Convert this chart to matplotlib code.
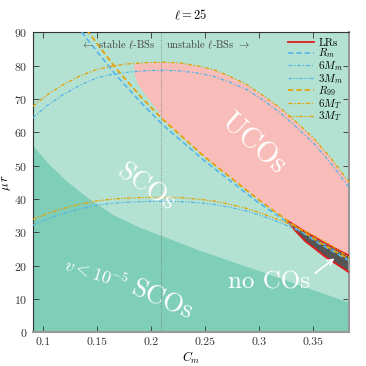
import numpy as np
import matplotlib
matplotlib.use("Agg")
from matplotlib import pyplot as plt, ticker

plt.rcParams['font.family'] = 'serif'
plt.rcParams['font.serif'] = ['cmr10']
plt.rcParams['mathtext.fontset'] = 'cm'
plt.rcParams['axes.formatter.use_mathtext'] = True

# values
arc_C = [0.0903, 0.1034, 0.1184, 0.134, 0.1494, 0.163, 0.175, 0.1958, 0.211, 0.2267,
         0.242, 0.2577, 0.273, 0.2887, 0.304, 0.3198, 0.335, 0.3505, 0.367, 0.3838]
M6_T = [67.8, 71.2, 74.3, 76.9, 78.8, 79.8, 80.4, 80.9, 81.0, 80.8,
        80.0, 78.8, 76.8, 74.3, 71.0, 67.3, 63.0, 58.3, 52.2, 45.0]
M6_m = [64.3, 68.0, 71.3, 74.1, 76.3, 77.3, 77.9, 78.5, 78.6, 78.4,
        77.8, 76.8, 75.0, 72.8, 69.6, 65.8, 61.5, 56.8, 50.6, 43.4]
M3_T = [33.9, 35.6, 37.15, 38.45, 39.4, 39.9, 40.2, 40.45, 40.5, 40.4,
        40.0, 39.4, 38.4, 37.15, 35.5, 33.65, 31.5, 29.15, 26.1, 22.5]
M3_m = [32.15, 34.0, 35.65, 37.05, 38.15, 38.65, 38.95, 39.25, 39.3, 39.2,
        38.9, 38.4, 37.5, 36.4, 34.8, 32.9, 30.75, 28.4, 25.3, 21.7]

r_C = [0.1355, 0.1416, 0.168, 0.19, 0.2112, 0.25, 0.298, 0.3273, 0.356, 0.3838]
R_99 = [92.7, 90.1, 78.9, 70.8, 63.7, 52.5, 40.2, 33.3, 27.0, 21.9]
R_m = [90.1, 87.5, 76.9, 69.1, 62.1, 51.3, 39.3, 32.8, 26.6, 21.5]

lr_up_C = [0.3273, 0.3428, 0.3614, 0.3838]
lr_up = [33.3, 30.2, 26.7, 23.0]
lr_low_C = [0.3273, 0.3335, 0.3428, 0.3614, 0.3838]
lr_low = [33.1, 30.6, 27.4, 22.7, 18.0]

dark_C = [0.0903, 0.104, 0.12, 0.14, 0.165, 0.19, 0.208, 0.245, 0.3, 0.3838]
dark_top = [56.0, 50.8, 45.8, 40.6, 35.2, 31.4, 29.2, 24.6, 18.5, 9.0]

uco_left_C = [0.2066, 0.1958, 0.1875, 0.1848, 0.1843]
uco_left = [66.2, 70.7, 74.5, 77.5, 80.4]

C_crit = 0.2095

blue = '#56b4e9'
orange = '#e69f00'
red = '#e31a1c'

fig = plt.figure(figsize=(3.66, 3.66), dpi=100)
ax = fig.add_axes([0.090, 0.092, 0.864, 0.820])
ax.set_facecolor('#b3e2d3')

ax.fill_between(dark_C, 0, dark_top, color='#7fceb8', lw=0, zorder=1)

# UCO region: top arc, right edge, upper LR, R_99, left edge
c0 = uco_left_C[-1]
top_C = [c0] + [c for c in arc_C if c > c0]
top_v = list(np.interp(top_C, arc_C, M6_T) - 0.2)
seg_C = [c for c in r_C if 0.2112 <= c <= 0.3273][::-1]
seg_v = list(np.interp(seg_C, r_C, R_99))
px = top_C + lr_up_C[::-1] + seg_C + uco_left_C
py = top_v + lr_up[::-1] + seg_v + uco_left
ax.fill(px, py, color='#f8bdb9', lw=0, zorder=2)

# no COs band
ax.fill(lr_up_C + lr_low_C[::-1], lr_up + lr_low[::-1], color='#555555', lw=0, zorder=2)

ax.axvline(C_crit, color='#777777', lw=0.6, ls=':', zorder=3)

ax.plot(lr_up_C, lr_up, color=red, lw=1.3, zorder=4, label='LRs')
ax.plot(lr_low_C, lr_low, color=red, lw=1.3, zorder=4)
ax.plot(r_C, R_m, color=blue, lw=1.2, dashes=(3.2, 1.8), zorder=5, label='$R_m$')
ax.plot(arc_C, M6_m, color=blue, lw=0.9, dashes=(3, 1.5, 1, 1.5), zorder=5, label='$6M_m$')
ax.plot(arc_C, M3_m, color=blue, lw=0.9, dashes=(3, 1.2, 1, 1.2, 1, 1.2), zorder=5, label='$3M_m$')
ax.plot(r_C, R_99, color=orange, lw=1.2, dashes=(3.2, 1.8), zorder=5, label='$R_{99}$')
ax.plot(arc_C, M6_T, color=orange, lw=0.9, dashes=(3, 1.5, 1, 1.5), zorder=5, label='$6M_T$')
ax.plot(arc_C, M3_T, color=orange, lw=0.9, dashes=(3, 1.2, 1, 1.2, 1, 1.2), zorder=5, label='$3M_T$')

ax.text(0.2035, 86.1, r'$\leftarrow$ stable $\ell$-BSs', ha='right', va='center',
        fontsize=7.5, color='#444444', zorder=6)
ax.text(0.2137, 86.1, r'unstable $\ell$-BSs $\rightarrow$', ha='left', va='center',
        fontsize=7.5, color='#444444', zorder=6)

ax.text(0.294, 56.5, 'UCOs', color='white', fontsize=21, rotation=-42,
        ha='center', va='center', zorder=6)
ax.text(0.195, 43.4, 'SCOs', color='white', fontsize=19, rotation=-35,
        ha='center', va='center', zorder=6)
ax.text(0.1487, 17.8, r'$v<10^{-5}$', color='white', fontsize=13, rotation=-18,
        ha='center', va='center', zorder=6)
ax.text(0.2105, 9.6, 'SCOs', color='white', fontsize=19, rotation=-24,
        ha='center', va='center', zorder=6)
ax.text(0.3098, 15.1, 'no COs', color='white', fontsize=18,
        ha='center', va='center', zorder=6)
ax.annotate('', xy=(0.3722, 22.7), xytext=(0.3501, 17.2),
            arrowprops=dict(arrowstyle='->,head_length=0.4,head_width=0.2',
                            color='white', lw=1.2), zorder=6)

ax.set_xlim(0.0903, 0.3838)
ax.set_ylim(0, 90)
ax.xaxis.set_major_locator(ticker.FixedLocator([0.1, 0.15, 0.2, 0.25, 0.3, 0.35]))
ax.xaxis.set_major_formatter(ticker.FuncFormatter(lambda v, p: '%g' % v))
ax.yaxis.set_major_locator(ticker.MultipleLocator(10))
ax.tick_params(direction='in', top=True, right=True, length=4, width=0.6,
               labelsize=8.5, colors='#333333', pad=4)
for s in ['left', 'top']:
    ax.spines[s].set_color('#333333')
    ax.spines[s].set_linewidth(0.8)
for s in ['right', 'bottom']:
    ax.spines[s].set_color('#999999')
    ax.spines[s].set_linewidth(1.5)

ax.set_xlabel('$C_m$', fontsize=9, labelpad=2)
ax.set_ylabel(r'$\mu\, r$', fontsize=9, labelpad=1)
ax.set_title(r'$\ell = 25$', fontsize=9, pad=9)

leg = ax.legend(loc='upper right', bbox_to_anchor=(1.0, 1.0), frameon=False,
                fontsize=7.9, handlelength=2.4, handletextpad=0.4,
                labelspacing=-0.12, borderaxespad=0.15)
leg.set_zorder(7)

fig.savefig('out.png', dpi=100)
